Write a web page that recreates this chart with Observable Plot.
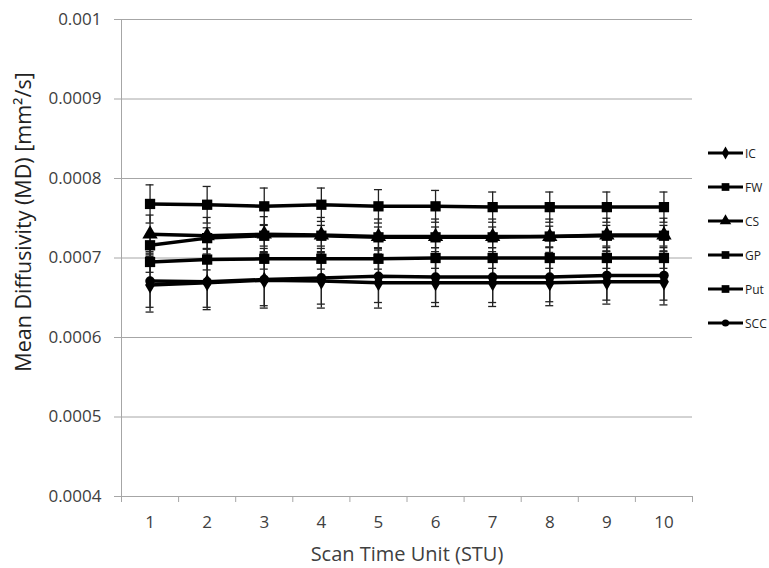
<!DOCTYPE html>
<html>
<head>
<meta charset="utf-8">
<script src="https://cdn.jsdelivr.net/npm/d3@7"></script>
<script src="https://cdn.jsdelivr.net/npm/@observablehq/plot@0.6"></script>
<style>
  html, body { margin: 0; padding: 0; background: #fff; }
  #wrap { position: relative; width: 769px; height: 568px; font-family: "Open Sans", sans-serif; }
  #ylabel { position: absolute; left: 22px; top: 222px; transform: translate(-50%, -50%) rotate(-90deg); white-space: nowrap; font-size: 21.5px; color: #222; }
  #legend { position: absolute; left: 706px; top: 136px; font-size: 12px; color: #222; }
  .item { display: flex; align-items: center; height: 34px; }
  .item svg { display: block; }
  .item span { margin-left: 1px; }
</style>
</head>
<body>
<div id="wrap">
  <div id="chart"></div>
  <div id="ylabel">Mean Diffusivity (MD) [mm²/s]</div>
  <div id="legend"></div>
</div>
<script>
// ---- data ----
const stu = [1, 2, 3, 4, 5, 6, 7, 8, 9, 10];
const seriesNames = ["IC", "FW", "CS", "GP", "Put", "SCC"];
const seriesSymbols = ["diamond", "square", "triangle", "square", "square", "circle"];

const IC   = [0.000666, 0.000669, 0.000672, 0.000671, 0.000669, 0.000669, 0.000669, 0.000669, 0.000670, 0.000670];
const FW   = [0.000768, 0.000767, 0.000765, 0.000767, 0.000765, 0.000765, 0.000764, 0.000764, 0.000764, 0.000764];
const CS   = [0.000730, 0.000728, 0.000730, 0.000729, 0.000727, 0.000727, 0.000727, 0.000727, 0.000729, 0.000729];
const GP   = [0.000695, 0.000698, 0.000699, 0.000699, 0.000699, 0.000700, 0.000700, 0.000700, 0.000700, 0.000700];
const Put  = [0.000716, 0.000725, 0.000728, 0.000728, 0.000726, 0.000726, 0.000726, 0.000727, 0.000728, 0.000728];
const SCC  = [0.000671, 0.000670, 0.000673, 0.000675, 0.000677, 0.000676, 0.000676, 0.000676, 0.000678, 0.000678];

const IC_err  = [0.000034, 0.000034, 0.000035, 0.000034, 0.000032, 0.000030, 0.000030, 0.000029, 0.000028, 0.000029];
const FW_err  = [0.000024, 0.000023, 0.000023, 0.000021, 0.000021, 0.000020, 0.000019, 0.000019, 0.000019, 0.000019];
const CS_err  = [0.000024, 0.000023, 0.000022, 0.000022, 0.000022, 0.000022, 0.000022, 0.000022, 0.000021, 0.000021];
const GP_err  = [0.000013, 0.000013, 0.000013, 0.000013, 0.000013, 0.000013, 0.000013, 0.000013, 0.000013, 0.000013];
const Put_err = [0.000014, 0.000013, 0.000013, 0.000013, 0.000013, 0.000013, 0.000013, 0.000013, 0.000013, 0.000013];
const SCC_err = [0.000033, 0.000032, 0.000033, 0.000033, 0.000033, 0.000032, 0.000032, 0.000031, 0.000031, 0.000031];

const yTicks = [0.0004, 0.0005, 0.0006, 0.0007, 0.0008, 0.0009, 0.001];

// ---- build table ----
const values = {IC, FW, CS, GP, Put, SCC};
const errors = {IC: IC_err, FW: FW_err, CS: CS_err, GP: GP_err, Put: Put_err, SCC: SCC_err};
const table = [];
for (const s of seriesNames) {
  stu.forEach((x, i) => {
    const v = values[s][i], e = errors[s][i];
    table.push({series: s, x, y: v, lo: v - e, hi: v + e});
  });
}
const symbolOf = Object.fromEntries(seriesNames.map((s, i) => [s, seriesSymbols[i]]));
const radius = {diamond: 5.2, square: 5.8, triangle: 5.7, circle: 4.8};

const gridColor = "#a6a6a6";
const fmt = d => String(+d.toFixed(4));
const bounds = d3.range(0.5, 11, 1);

const marks = [
  Plot.gridY(yTicks, {stroke: gridColor, strokeOpacity: 1}),
  Plot.axisY(yTicks, {tickSize: 7, tickPadding: 13, tickFormat: fmt, label: null, stroke: gridColor, fill: "#404040", fontSize: 17}),
  Plot.ruleX([0.5], {stroke: gridColor}),
  Plot.ruleY([0.0004], {stroke: gridColor}),
  Plot.axisX(bounds, {tickSize: 6, tickFormat: () => "", label: null, stroke: gridColor}),
  Plot.axisX(stu, {tickSize: 0, tickPadding: 19, fill: "#404040", fontSize: 17, label: null}),
  Plot.axisX([], {tickSize: 0, fill: "#404040", fontSize: 20, label: "Scan Time Unit (STU)", labelAnchor: "center", labelArrow: "none", labelOffset: 64}),
  Plot.ruleX(table, {x: "x", y1: "lo", y2: "hi", stroke: "#222", strokeWidth: 1.3}),
  Plot.ruleY(table, {x1: "x", x2: "x", y: "hi", insetLeft: -4, insetRight: -4, stroke: "#222", strokeWidth: 1.3}),
  Plot.ruleY(table, {x1: "x", x2: "x", y: "lo", insetLeft: -4, insetRight: -4, stroke: "#222", strokeWidth: 1.3}),
  Plot.line(table, {x: "x", y: "y", z: "series", stroke: "#000", strokeWidth: 3.5})
];
for (const s of seriesNames) {
  const sym = symbolOf[s];
  marks.push(Plot.dot(table.filter(d => d.series === s), {x: "x", y: "y", symbol: () => sym, fill: "#000", r: radius[sym]}));
}

const chart = Plot.plot({
  width: 769, height: 568,
  marginLeft: 121, marginRight: 77, marginTop: 19, marginBottom: 72,
  x: {domain: [0.5, 10.5]},
  y: {domain: [0.0004, 0.001]},
  symbol: {type: "identity"},
  style: {fontFamily: "Open Sans, sans-serif", fontSize: "16px", color: "#404040", background: "white"},
  marks
});
document.getElementById("chart").appendChild(chart);

// ---- legend ----
const legend = document.getElementById("legend");
for (const s of seriesNames) {
  const sym = symbolOf[s];
  const item = document.createElement("div");
  item.className = "item";
  const svg = d3.create("svg").attr("width", 38).attr("height", 14);
  svg.append("line").attr("x1", 2).attr("x2", 37).attr("y1", 7).attr("y2", 7).attr("stroke", "#000").attr("stroke-width", 3);
  const symType = {diamond: d3.symbolDiamond, square: d3.symbolSquare, triangle: d3.symbolTriangle, circle: d3.symbolCircle}[sym];
  svg.append("path").attr("transform", "translate(19.5,7)").attr("d", d3.symbol(symType, Math.PI * Math.pow(radius[sym] * 0.75, 2))()).attr("fill", "#000");
  item.appendChild(svg.node());
  const span = document.createElement("span");
  span.textContent = s;
  item.appendChild(span);
  legend.appendChild(item);
}
</script>
</body>
</html>
